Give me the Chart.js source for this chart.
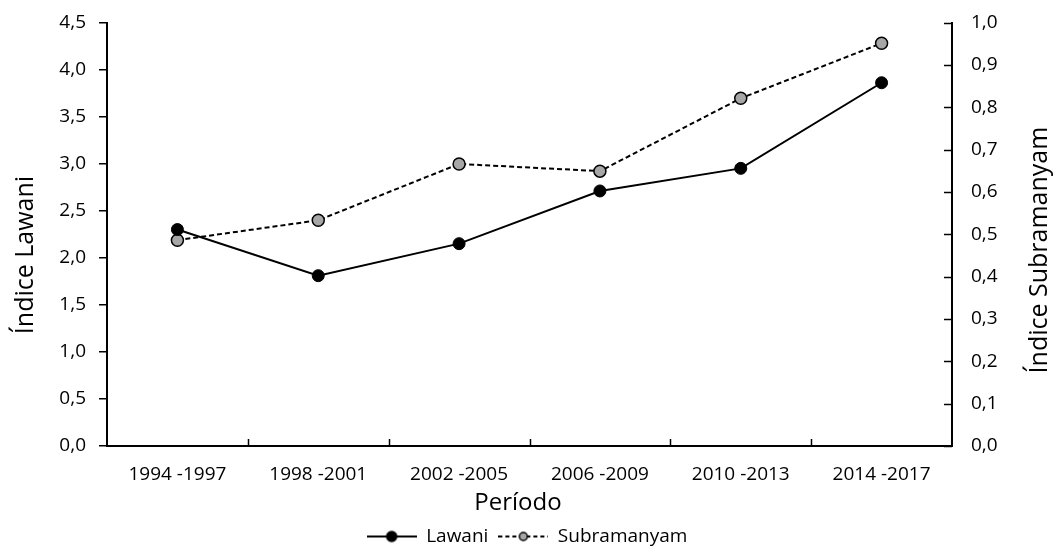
<!DOCTYPE html>
<html>
<head>
<meta charset="utf-8">
<script src="https://cdn.jsdelivr.net/npm/chart.js@4"></script>
<style>
  html, body { margin: 0; padding: 0; background: #fff; }
  #contenedor { width: 1054px; height: 547px; }
</style>
</head>
<body>
<div id="contenedor"><canvas id="graficoIndices"></canvas></div>
<script>
// Datos
const periodos = ['1994 -1997', '1998 -2001', '2002 -2005', '2006 -2009', '2010 -2013', '2014 -2017'];
const lawani = [2.30, 1.81, 2.15, 2.71, 2.95, 3.86];
const subramanyam = [0.486, 0.533, 0.666, 0.649, 0.821, 0.951];

const fuente = "'Open Sans', sans-serif";
const conComa = v => Number(v).toFixed(1).replace('.', ',');

// Muestra de leyenda: línea con el marcador encima
function muestraLeyenda(relleno, discontinua, radio) {
    const c = document.createElement('canvas');
    c.width = 50; c.height = 14;
    const g = c.getContext('2d');
    g.strokeStyle = '#000';
    g.lineWidth = 2;
    if (discontinua) g.setLineDash([4, 3]);
    g.beginPath(); g.moveTo(0, 7); g.lineTo(50, 7); g.stroke();
    g.setLineDash([]);
    g.fillStyle = relleno;
    g.lineWidth = 1.5;
    g.beginPath(); g.arc(25, 7, radio, 0, Math.PI * 2); g.fill(); g.stroke();
    return c;
}

// Marcas hacia dentro (eje derecho y eje de categorías) y títulos de ejes
const marcasInternas = {
    id: 'marcasInternas',
    afterDraw(chart) {
        const { ctx, chartArea, scales } = chart;
        ctx.save();
        ctx.strokeStyle = '#000';
        ctx.lineWidth = 1.5;
        const y2 = scales.y2;
        y2.ticks.forEach((t, i) => {
            const py = Math.round(y2.getPixelForTick(i)) + 0.5;
            ctx.beginPath(); ctx.moveTo(chartArea.right - 8, py); ctx.lineTo(chartArea.right, py); ctx.stroke();
        });
        const x = scales.x;
        const paso = x.getPixelForTick(1) - x.getPixelForTick(0);
        for (let i = 1; i < periodos.length; i++) {
            const px = Math.round(x.getPixelForTick(i) - paso / 2) + 0.5;
            ctx.beginPath(); ctx.moveTo(px, chartArea.bottom); ctx.lineTo(px, chartArea.bottom - 7); ctx.stroke();
        }

        ctx.fillStyle = '#000';
        ctx.textAlign = 'center';
        ctx.textBaseline = 'middle';
        ctx.font = "24px " + fuente;
        ctx.fillText('Período', 518, 503);

        ctx.font = "25px " + fuente;
        ctx.save();
        ctx.translate(26, 255);
        ctx.rotate(-Math.PI / 2);
        ctx.fillText('Índice Lawani', 0, 0);
        ctx.restore();

        ctx.translate(1040, 250);
        ctx.rotate(-Math.PI / 2);
        ctx.fillText('Índice Subramanyam', 0, 0);
        ctx.restore();
    }
};

const ctx = document.getElementById('graficoIndices').getContext('2d');
new Chart(ctx, {
    type: 'line',
    data: {
        labels: periodos,
        datasets: [{
            label: 'Lawani',
            data: lawani,
            yAxisID: 'y',
            borderColor: '#000',
            borderWidth: 2,
            pointBackgroundColor: '#000',
            pointBorderColor: '#000',
            pointBorderWidth: 1,
            pointRadius: 6,
            tension: 0
        }, {
            label: 'Subramanyam',
            data: subramanyam,
            yAxisID: 'y2',
            borderColor: '#000',
            borderWidth: 2,
            borderDash: [5, 3],
            pointBackgroundColor: '#a6a6a6',
            pointBorderColor: '#000',
            pointBorderWidth: 1.5,
            pointRadius: 6,
            tension: 0
        }]
    },
    options: {
        responsive: true,
        maintainAspectRatio: false,
        animation: false,
        layout: { padding: { top: 0, right: 0, left: 0, bottom: -9 } },
        plugins: {
            tooltip: { enabled: false },
            legend: {
                position: 'bottom',
                labels: {
                    usePointStyle: true,
                    pointStyleWidth: 50,
                    color: '#000',
                    padding: 10,
                    font: { family: fuente, size: 19 },
                    generateLabels: () => [
                        { text: 'Lawani', pointStyle: muestraLeyenda('#000', false, 5), fontColor: '#000', lineWidth: 0, datasetIndex: 0 },
                        { text: 'Subramanyam', pointStyle: muestraLeyenda('#a6a6a6', true, 4), fontColor: '#000', lineWidth: 0, datasetIndex: 1 }
                    ]
                }
            }
        },
        scales: {
            x: {
                offset: true,
                grid: { display: false },
                border: { display: true, color: '#000', width: 2 },
                ticks: { color: '#000', padding: 9, maxRotation: 0, font: { family: fuente, size: 19 } },
                afterFit: s => { s.height = 71; }
            },
            y: {
                position: 'left',
                min: 0, max: 4.5,
                ticks: { stepSize: 0.5, color: '#000', padding: 13, callback: conComa, font: { family: fuente, size: 19, lineHeight: 1 } },
                grid: { drawOnChartArea: false, drawTicks: true, tickLength: 8, color: '#000', lineWidth: 1.5 },
                border: { display: true, color: '#000', width: 2 },
                afterFit: s => { s.width = 107; }
            },
            y2: {
                position: 'right',
                min: 0, max: 1.0,
                ticks: { stepSize: 0.1, color: '#000', padding: 11, callback: conComa, font: { family: fuente, size: 19, lineHeight: 1 } },
                grid: { display: false },
                border: { display: true, color: '#000', width: 2 },
                afterFit: s => { s.width = 102; }
            }
        }
    },
    plugins: [marcasInternas]
});
</script>
</body>
</html>
